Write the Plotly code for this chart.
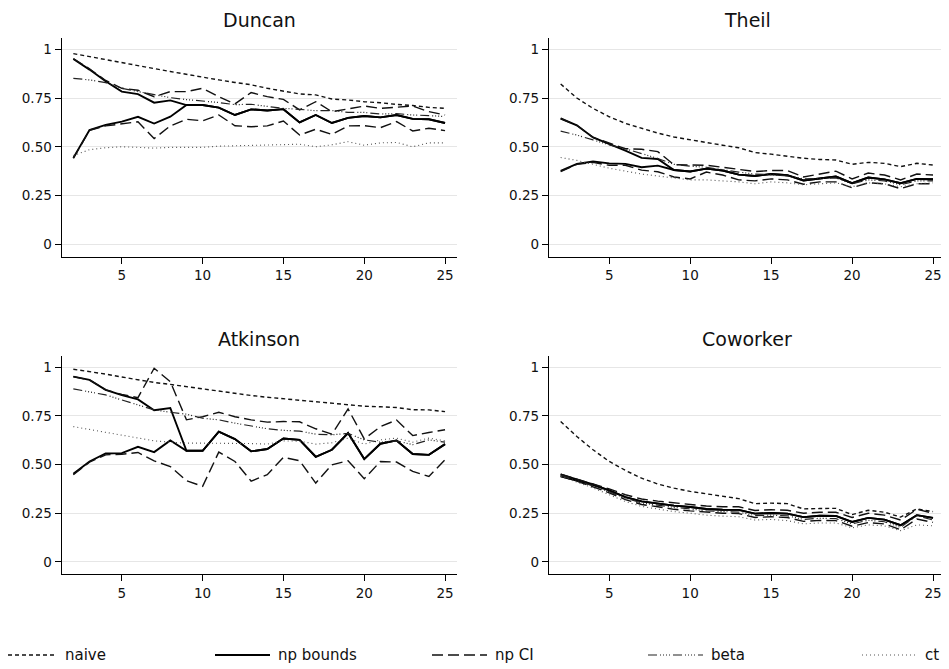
import plotly.graph_objects as go

sizes = list(range(2, 26))

panels = ["Duncan", "Theil", "Atkinson", "Coworker"]

duncan_naive = [0.978, 0.962, 0.947, 0.931, 0.916, 0.901, 0.886, 0.871, 0.857, 0.843, 0.830, 0.818,
                0.800, 0.785, 0.771, 0.766, 0.745, 0.740, 0.731, 0.726, 0.717, 0.712, 0.702, 0.697]
duncan_np_hi = [0.950, 0.896, 0.836, 0.783, 0.770, 0.726, 0.738, 0.714, 0.714, 0.701, 0.663, 0.692,
                0.686, 0.693, 0.625, 0.663, 0.622, 0.648, 0.658, 0.651, 0.663, 0.643, 0.641, 0.622]
duncan_np_lo = [0.443, 0.586, 0.612, 0.629, 0.654, 0.619, 0.654, 0.714, 0.714, 0.701, 0.663, 0.692,
                0.686, 0.693, 0.625, 0.663, 0.622, 0.648, 0.658, 0.651, 0.663, 0.643, 0.641, 0.622]
duncan_ci_hi = [0.952, 0.900, 0.840, 0.800, 0.790, 0.757, 0.783, 0.783, 0.800, 0.757, 0.720, 0.778,
                0.757, 0.743, 0.689, 0.731, 0.680, 0.694, 0.709, 0.697, 0.702, 0.709, 0.680, 0.663]
duncan_ci_lo = [0.440, 0.585, 0.607, 0.618, 0.628, 0.542, 0.607, 0.641, 0.633, 0.663, 0.608, 0.603,
                0.607, 0.632, 0.560, 0.590, 0.563, 0.607, 0.608, 0.598, 0.629, 0.581, 0.595, 0.583]
duncan_beta = [0.851, 0.843, 0.829, 0.800, 0.783, 0.766, 0.752, 0.742, 0.735, 0.727, 0.716, 0.718,
               0.707, 0.697, 0.692, 0.685, 0.686, 0.676, 0.676, 0.668, 0.670, 0.663, 0.660, 0.655]
duncan_ct = [0.455, 0.485, 0.495, 0.500, 0.497, 0.493, 0.497, 0.498, 0.497, 0.503, 0.505, 0.505,
             0.507, 0.510, 0.513, 0.500, 0.510, 0.526, 0.508, 0.520, 0.522, 0.500, 0.520, 0.520]

theil_naive = [0.822, 0.750, 0.697, 0.654, 0.620, 0.594, 0.570, 0.550, 0.535, 0.522, 0.508, 0.495,
               0.470, 0.462, 0.452, 0.441, 0.435, 0.432, 0.410, 0.420, 0.415, 0.398, 0.415, 0.406]
theil_np_hi = [0.645, 0.610, 0.548, 0.515, 0.480, 0.443, 0.437, 0.381, 0.373, 0.388, 0.378, 0.357,
               0.350, 0.360, 0.354, 0.327, 0.337, 0.347, 0.313, 0.342, 0.333, 0.313, 0.335, 0.333]
theil_np_lo = [0.376, 0.412, 0.424, 0.415, 0.412, 0.395, 0.403, 0.381, 0.373, 0.388, 0.378, 0.357,
               0.350, 0.360, 0.354, 0.327, 0.337, 0.347, 0.313, 0.342, 0.333, 0.313, 0.335, 0.333]
theil_ci_hi = [0.645, 0.610, 0.548, 0.520, 0.490, 0.487, 0.475, 0.408, 0.407, 0.405, 0.395, 0.385,
               0.373, 0.378, 0.378, 0.345, 0.360, 0.375, 0.335, 0.365, 0.355, 0.330, 0.360, 0.355]
theil_ci_lo = [0.372, 0.410, 0.420, 0.405, 0.405, 0.380, 0.372, 0.345, 0.335, 0.370, 0.355, 0.330,
               0.325, 0.335, 0.330, 0.308, 0.320, 0.320, 0.290, 0.315, 0.310, 0.285, 0.310, 0.310]
theil_beta = [0.580, 0.560, 0.535, 0.510, 0.490, 0.465, 0.440, 0.410, 0.400, 0.395, 0.382, 0.370,
              0.360, 0.357, 0.350, 0.335, 0.337, 0.340, 0.310, 0.330, 0.325, 0.305, 0.325, 0.325]
theil_ct = [0.445, 0.430, 0.410, 0.390, 0.375, 0.360, 0.350, 0.340, 0.330, 0.330, 0.325, 0.320,
            0.310, 0.320, 0.315, 0.305, 0.310, 0.315, 0.295, 0.315, 0.310, 0.295, 0.310, 0.315]

atkinson_naive = [0.990, 0.978, 0.965, 0.950, 0.935, 0.922, 0.912, 0.900, 0.888, 0.878, 0.867, 0.855,
                  0.846, 0.838, 0.831, 0.824, 0.817, 0.810, 0.800, 0.797, 0.793, 0.782, 0.781, 0.772]
atkinson_np_hi = [0.952, 0.935, 0.884, 0.857, 0.835, 0.779, 0.791, 0.571, 0.571, 0.669, 0.631, 0.568,
                  0.580, 0.634, 0.627, 0.540, 0.576, 0.662, 0.528, 0.607, 0.624, 0.554, 0.550, 0.605]
atkinson_np_lo = [0.453, 0.516, 0.557, 0.559, 0.591, 0.564, 0.624, 0.571, 0.571, 0.669, 0.631, 0.568,
                  0.580, 0.634, 0.627, 0.540, 0.576, 0.662, 0.528, 0.607, 0.624, 0.554, 0.550, 0.605]
atkinson_ci_hi = [0.952, 0.935, 0.884, 0.860, 0.844, 0.995, 0.926, 0.730, 0.746, 0.769, 0.746, 0.730,
                  0.718, 0.721, 0.720, 0.684, 0.656, 0.786, 0.632, 0.695, 0.729, 0.649, 0.665, 0.679]
atkinson_ci_lo = [0.448, 0.512, 0.550, 0.553, 0.562, 0.519, 0.490, 0.417, 0.388, 0.564, 0.516, 0.415,
                  0.448, 0.537, 0.520, 0.405, 0.499, 0.520, 0.427, 0.516, 0.513, 0.465, 0.439, 0.525]
atkinson_beta = [0.889, 0.875, 0.858, 0.832, 0.806, 0.781, 0.769, 0.759, 0.738, 0.730, 0.713, 0.700,
                 0.684, 0.676, 0.672, 0.656, 0.653, 0.660, 0.627, 0.615, 0.622, 0.602, 0.627, 0.615]
atkinson_ct = [0.695, 0.680, 0.666, 0.653, 0.636, 0.622, 0.615, 0.610, 0.610, 0.610, 0.609, 0.608,
               0.605, 0.622, 0.620, 0.605, 0.612, 0.636, 0.605, 0.627, 0.636, 0.615, 0.636, 0.622]

coworker_naive = [0.721, 0.644, 0.576, 0.516, 0.470, 0.430, 0.400, 0.379, 0.362, 0.349, 0.337, 0.325,
                  0.299, 0.302, 0.299, 0.272, 0.274, 0.275, 0.243, 0.265, 0.255, 0.230, 0.272, 0.258]
coworker_np_hi = [0.450, 0.424, 0.398, 0.367, 0.333, 0.311, 0.299, 0.289, 0.282, 0.272, 0.268, 0.267,
                  0.248, 0.251, 0.248, 0.230, 0.237, 0.236, 0.205, 0.226, 0.217, 0.188, 0.240, 0.226]
coworker_np_lo = [0.440, 0.418, 0.394, 0.367, 0.333, 0.311, 0.299, 0.289, 0.282, 0.272, 0.268, 0.267,
                  0.248, 0.251, 0.248, 0.230, 0.237, 0.236, 0.205, 0.226, 0.217, 0.188, 0.240, 0.226]
coworker_ci_hi = [0.450, 0.425, 0.400, 0.375, 0.345, 0.323, 0.312, 0.302, 0.295, 0.287, 0.283, 0.283,
                  0.264, 0.268, 0.265, 0.250, 0.255, 0.255, 0.228, 0.250, 0.240, 0.215, 0.270, 0.250]
coworker_ci_lo = [0.440, 0.415, 0.385, 0.355, 0.320, 0.295, 0.283, 0.270, 0.262, 0.255, 0.250, 0.248,
                  0.228, 0.232, 0.228, 0.208, 0.213, 0.212, 0.183, 0.202, 0.195, 0.165, 0.220, 0.203]
coworker_beta = [0.445, 0.418, 0.390, 0.360, 0.328, 0.303, 0.290, 0.280, 0.272, 0.262, 0.258, 0.256,
                 0.238, 0.240, 0.237, 0.218, 0.224, 0.222, 0.195, 0.214, 0.206, 0.177, 0.238, 0.215]
coworker_ct = [0.440, 0.410, 0.380, 0.345, 0.310, 0.285, 0.270, 0.258, 0.250, 0.240, 0.235, 0.232,
               0.215, 0.218, 0.212, 0.195, 0.200, 0.200, 0.175, 0.190, 0.185, 0.160, 0.190, 0.185]

y_tickvals = [0, 0.25, 0.5, 0.75, 1]
y_ticktext = ["0", "0.25", "0.50", "0.75", "1"]
x_tickvals = [5, 10, 15, 20, 25]
x_ticktext = ["5", "10", "15", "20", "25"]

legend_labels = ["naive", "np bounds", "np CI", "beta", "ct"]

panel_data = {
    "Duncan": [duncan_naive, duncan_np_lo, duncan_np_hi, duncan_ci_lo, duncan_ci_hi, duncan_beta, duncan_ct],
    "Theil": [theil_naive, theil_np_lo, theil_np_hi, theil_ci_lo, theil_ci_hi, theil_beta, theil_ct],
    "Atkinson": [atkinson_naive, atkinson_np_lo, atkinson_np_hi, atkinson_ci_lo, atkinson_ci_hi, atkinson_beta, atkinson_ct],
    "Coworker": [coworker_naive, coworker_np_lo, coworker_np_hi, coworker_ci_lo, coworker_ci_hi, coworker_beta, coworker_ct],
}

styles = {
    "naive": dict(color="#111111", width=1.4, dash="4px,3px"),
    "np bounds": dict(color="#000000", width=1.9, dash="solid"),
    "np CI": dict(color="#111111", width=1.4, dash="11px,5px"),
    "beta": dict(color="#222222", width=1.2, dash="9px,3px,1px,2px,1px,2px,1px,2px,1px,3px"),
    "ct": dict(color="#555555", width=1.1, dash="1px,3px"),
}
series_keys = ["naive", "np bounds", "np bounds", "np CI", "np CI", "beta", "ct"]

# the page puts the figure 8px in from the top-left corner
OFF = 8
W, H = 949 - OFF, 669 - OFF
def px_x(p):
    return (p - OFF) / W
def px_y(p):
    return 1 - (p - OFF) / H

col_domains = [[px_x(61.7), px_x(457)], [px_x(549), px_x(945)]]
row_domains = [[px_y(256.7), px_y(38)], [px_y(574.3), px_y(356)]]
title_y = [px_y(20), px_y(339)]

fig = go.Figure()
layout = {}
annotations = []
for i, name in enumerate(panels):
    r, c = divmod(i, 2)
    xa = "x" if i == 0 else f"x{i+1}"
    ya = "y" if i == 0 else f"y{i+1}"
    for key, vals in zip(series_keys, panel_data[name]):
        st = styles[key]
        fig.add_trace(go.Scatter(
            x=sizes, y=vals, mode="lines", name=key, legendgroup=key,
            showlegend=False, xaxis=xa, yaxis=ya,
            line=dict(color=st["color"], width=st["width"], dash=st["dash"]),
        ))
    axis_common = dict(showline=True, linecolor="black", linewidth=1.3, ticks="outside",
                       ticklen=6, tickwidth=1.3, tickcolor="black", zeroline=False,
                       tickfont=dict(family="DejaVu Sans", size=13.5, color="#111111"))
    layout["xaxis" if i == 0 else f"xaxis{i+1}"] = dict(
        domain=col_domains[c], anchor=ya, range=[1.28, 25.74],
        tickvals=x_tickvals, ticktext=x_ticktext, showgrid=False, **axis_common)
    layout["yaxis" if i == 0 else f"yaxis{i+1}"] = dict(
        domain=row_domains[r], anchor=xa, range=[-0.064, 1.058],
        tickvals=y_tickvals, ticktext=y_ticktext, showgrid=True,
        gridcolor="#e6e6e6", gridwidth=1.2, **axis_common)
    annotations.append(dict(
        text=name, x=sum(col_domains[c]) / 2, y=title_y[r], xref="paper", yref="paper",
        xanchor="center", yanchor="middle", showarrow=False,
        font=dict(family="DejaVu Sans", size=19, color="#111111")))

# legend drawn along the bottom, in equal-width columns
legend_y = px_y(655)
key_spans = [(8, 57), (215, 270), (432, 487), (648, 703), (862, 917)]
shapes = []
for label, (x0, x1) in zip(legend_labels, key_spans):
    st = styles[label]
    shapes.append(dict(type="line", xref="paper", yref="paper",
                       x0=px_x(x0), x1=px_x(x1), y0=legend_y, y1=legend_y,
                       line=dict(color=st["color"], width=st["width"], dash=st["dash"])))
    annotations.append(dict(text=label, x=px_x(x1 + 6), y=legend_y, xref="paper", yref="paper",
                            xanchor="left", yanchor="middle", showarrow=False,
                            font=dict(family="DejaVu Sans", size=15, color="#111111")))

fig.update_layout(
    width=W, height=H, margin=dict(l=0, r=0, t=0, b=0),
    paper_bgcolor="white", plot_bgcolor="white", showlegend=False,
    annotations=annotations, shapes=shapes, **layout)

fig.write_html("out.html")
